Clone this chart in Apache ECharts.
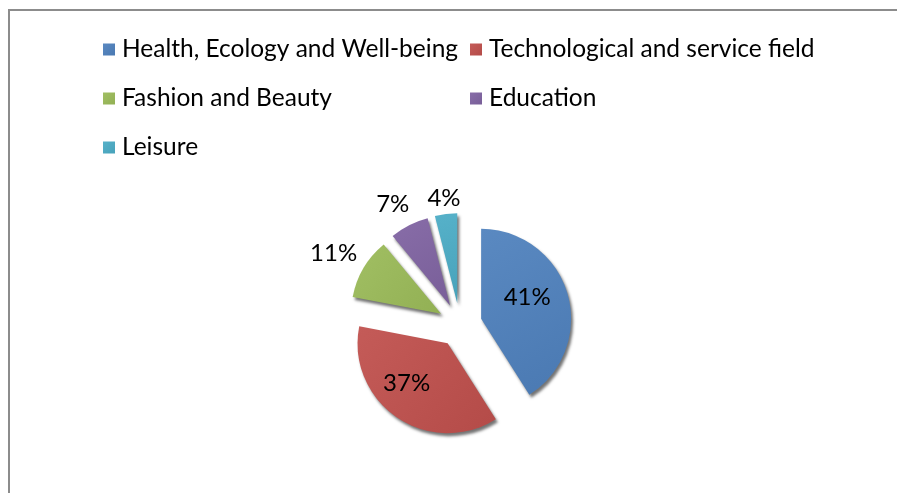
<!DOCTYPE html>
<html>
<head>
<meta charset="utf-8">
<script src="https://cdn.jsdelivr.net/npm/echarts@6/dist/echarts.min.js"></script>
<style>
html,body{margin:0;padding:0;background:#fff;}
#c{width:897px;height:493px;}
</style>
</head>
<body>
<div id="c"></div>
<script>
var categories = ['Health, Ecology and Well-being', 'Technological and service field', 'Fashion and Beauty', 'Education', 'Leisure'];
var values = [41, 37, 11, 7, 4];
var colors = ['#4F81BD', '#C0504D', '#9BBB59', '#8064A2', '#4BACC6'];
var insideLabelIdx = [0, 1];
var legendCol1 = ['Health, Ecology and Well-being', 'Fashion and Beauty', 'Leisure'];
var legendCol2 = ['Technological and service field', 'Education'];

var FONT = 'Lato';
var CENTER = [460, 325];
var chart = echarts.init(document.getElementById('c'));

function shade(hex, f) {
  var n = parseInt(hex.slice(1), 16);
  var r = (n >> 16) & 255, g = (n >> 8) & 255, b = n & 255;
  function c(v){ v = Math.round(f > 0 ? v + (255 - v) * f : v * (1 + f)); return Math.max(0, Math.min(255, v)); }
  return 'rgb(' + c(r) + ',' + c(g) + ',' + c(b) + ')';
}

// label distance (from slice apex) for the percentages drawn outside the slices
var outerLabelRadius = {2: 116, 3: 110, 4: 103};
// nudges of the label text box (rich token padding: top, right, bottom, left)
var labelPad = {0: [0, 0, 16, 0], 1: [0, 28, 0, 0], 2: [0, 10, 0, 0], 3: [0, 12, 0, 0], 4: [0, 0, 0, 0]};

function labelFor(i, show) {
  return {
    show: show,
    formatter: '{t|{d}%}',
    rich: {t: {fontFamily: FONT, fontSize: 24, color: '#000', padding: labelPad[i]}}
  };
}

var mainData = categories.map(function (name, i) {
  var inside = insideLabelIdx.indexOf(i) >= 0;
  return {
    name: name,
    value: values[i],
    selected: true,
    itemStyle: {
      color: {
        type: 'linear', x: 0, y: 0, x2: 1, y2: 1,
        colorStops: [{offset: 0, color: shade(colors[i], 0.06)}, {offset: 1, color: shade(colors[i], -0.06)}]
      }
    },
    label: labelFor(i, inside)
  };
});

var labelStyle = {
  position: 'inside',
  fontFamily: FONT,
  fontSize: 24,
  color: '#000'
};

var series = [{
  type: 'pie',
  center: CENTER,
  radius: [0, 90],
  startAngle: 90,
  clockwise: true,
  selectedMode: 'multiple',
  selectedOffset: 22,
  emphasis: {disabled: true},
  itemStyle: {
    shadowColor: 'rgba(0,0,0,0.55)',
    shadowBlur: 3,
    shadowOffsetX: 2,
    shadowOffsetY: 3
  },
  label: labelStyle,
  labelLine: {show: false},
  data: mainData
}];

// transparent rings that only carry the outside percentage labels
Object.keys(outerLabelRadius).forEach(function (k) {
  var idx = +k;
  var rr = outerLabelRadius[k];
  series.push({
    type: 'pie',
    center: CENTER,
    radius: [rr - 10, rr + 10],
    startAngle: 90,
    clockwise: true,
    selectedMode: 'multiple',
    selectedOffset: 22,
    silent: true,
    legendHoverLink: false,
    emphasis: {disabled: true},
    label: labelStyle,
    labelLine: {show: false},
    data: categories.map(function (name, i) {
      return {
        name: name,
        value: values[i],
        selected: true,
        itemStyle: {color: 'rgba(0,0,0,0)'},
        label: labelFor(i, i === idx)
      };
    })
  });
});

var legendCommon = {
  orient: 'vertical',
  icon: 'rect',
  itemWidth: 12,
  itemHeight: 12,
  itemGap: 24,
  padding: 0,
  selectedMode: false,
  textStyle: {fontFamily: FONT, fontSize: 24.5, color: '#000', lineHeight: 24, padding: [0, 0, 0, 2]}
};

chart.setOption({
  animation: false,
  color: colors,
  graphic: [{
    type: 'rect',
    shape: {x: 9, y: 10, width: 1000, height: 600},
    style: {fill: 'none', stroke: '#8c8c8c', lineWidth: 2},
    silent: true,
    z: -10
  }],
  legend: [
    Object.assign({left: 103, top: 37, data: legendCol1}, legendCommon),
    Object.assign({left: 470, top: 37, data: legendCol2}, legendCommon)
  ],
  series: series
});
</script>
</body>
</html>
